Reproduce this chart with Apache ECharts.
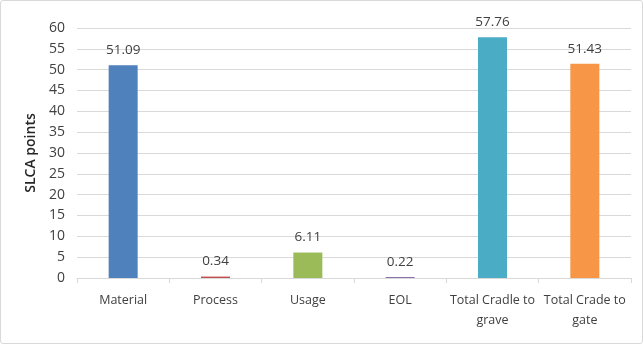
<!DOCTYPE html>
<html>
<head>
<meta charset="utf-8">
<script src="https://cdn.jsdelivr.net/npm/echarts@6/dist/echarts.min.js"></script>
<style>
  html, body { margin: 0; padding: 0; background: #fff; }
  #chart { width: 643px; height: 344px; box-sizing: border-box; border: 1px solid #d9d9d9; border-radius: 3px; }
</style>
</head>
<body>
<div id="chart"></div>
<script>
// SLCA points per life-cycle stage
const categories = ['Material', 'Process', 'Usage', 'EOL', 'Total Cradle to\ngrave', 'Total Crade to\ngate'];
const values = [51.09, 0.34, 6.11, 0.22, 57.76, 51.43];
const barColors = ['#4F81BD', '#C0504D', '#9BBB59', '#8064A2', '#4BACC6', '#F79646'];
const yTicks = { min: 0, max: 60, interval: 5 };

const chart = echarts.init(document.getElementById('chart'));
const font = '"Open Sans", "Liberation Sans", sans-serif';

chart.setOption({
  animation: false,
  grid: { left: 76, right: 11, top: 27, bottom: 65 },
  xAxis: {
    type: 'category',
    data: categories,
    axisLine: { lineStyle: { color: '#d9d9d9' } },
    axisTick: { show: true, alignWithLabel: false, length: 5, lineStyle: { color: '#d9d9d9' } },
    axisLabel: { color: '#404040', fontFamily: font, fontSize: 12.5, margin: 12, lineHeight: 20, interval: 0 }
  },
  yAxis: {
    type: 'value',
    min: yTicks.min, max: yTicks.max, interval: yTicks.interval,
    name: 'SLCA points',
    nameLocation: 'middle',
    nameGap: 30,
    nameTextStyle: { color: '#262626', fontFamily: font, fontSize: 14, fontWeight: 600 },
    axisLine: { show: false },
    axisTick: { show: false },
    axisLabel: { color: '#404040', fontFamily: font, fontSize: 14, margin: 12 },
    splitLine: { lineStyle: { color: '#d9d9d9' } }
  },
  series: [{
    type: 'bar',
    barWidth: 29,
    data: values.map((v, i) => ({ value: v, itemStyle: { color: barColors[i] } })),
    label: {
      show: true, position: 'top', distance: 8,
      color: '#404040', fontFamily: font, fontSize: 13.5
    }
  }]
});
</script>
</body>
</html>
